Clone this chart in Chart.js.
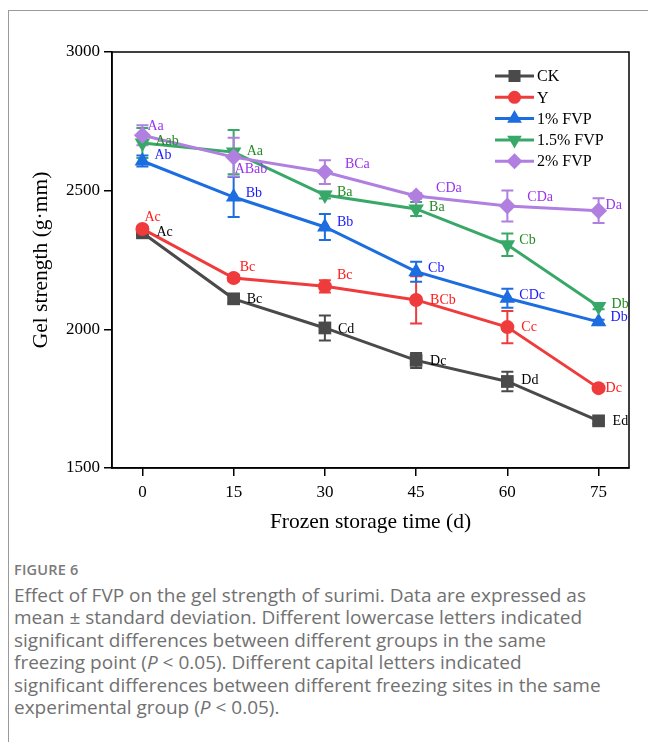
<!DOCTYPE html>
<html>
<head>
<meta charset="utf-8">
<script src="https://cdn.jsdelivr.net/npm/chart.js@4.4.1/dist/chart.umd.min.js"></script>
<style>
  body{margin:0;background:#fff;width:648px;height:742px;overflow:hidden;position:relative;font-family:"Open Sans",sans-serif}
  .frame{position:absolute;left:8px;top:10px;width:660px;height:760px;border-left:1px solid #9a9a9a;border-top:1px solid #9a9a9a}
  #chart{position:absolute;left:0;top:0}
  .caption{position:absolute;left:14px;top:560px;width:634px;color:#717171}
  .fig{font-size:14.5px;font-weight:600;line-height:19px;color:#7a7a7a;letter-spacing:.2px}
  .text{font-size:19px;line-height:22.4px;margin-top:5px;white-space:nowrap}
</style>
</head>
<body>
<div class="frame"></div>
<canvas id="chart" width="648" height="540"></canvas>
<div class="caption">
  <div class="fig">FIGURE 6</div>
  <div class="text">Effect of FVP on the gel strength of surimi. Data are expressed as<br>mean ± standard deviation. Different lowercase letters indicated<br>significant differences between different groups in the same<br>freezing point (<i>P</i> &lt; 0.05). Different capital letters indicated<br>significant differences between different freezing sites in the same<br>experimental group (<i>P</i> &lt; 0.05).</div>
</div>
<script>
// storage days and tick labels
const days = [0, 15, 30, 45, 60, 75];
const xTicks = ["0", "15", "30", "45", "60", "75"];
const yTicks = [1500, 2000, 2500, 3000];
const seriesNames = ["CK", "Y", "1% FVP", "1.5% FVP", "2% FVP"];

// gel strength (g·mm), mean and sd
const ck       = [2348, 2110, 2005, 1888, 1812, 1670];
const ckSd     = [8, 15, 45, 27, 35, 10];
const yGroup   = [2362, 2185, 2155, 2106, 2008, 1788];
const ySd      = [8, 12, 22, 85, 58, 8];
const fvp1     = [2607, 2477, 2369, 2208, 2112, 2027];
const fvp1Sd   = [20, 72, 47, 36, 34, 8];
const fvp15    = [2672, 2639, 2484, 2434, 2305, 2082];
const fvp15Sd  = [54, 80, 12, 25, 41, 10];
const fvp2     = [2700, 2621, 2567, 2481, 2445, 2428];
const fvp2Sd   = [36, 70, 43, 10, 56, 45];

// significance letters
const ckLetters    = ["Ac", "Bc", "Cd", "Dc", "Dd", "Ed"];
const yLetters     = ["Ac", "Bc", "Bc", "BCb", "Cc", "Dc"];
const fvp1Letters  = ["Ab", "Bb", "Bb", "Cb", "CDc", "Db"];
const fvp15Letters = ["Aab", "Aa", "Ba", "Ba", "Cb", "Db"];
const fvp2Letters  = ["Aa", "ABab", "BCa", "CDa", "CDa", "Da"];

// where each letter sits relative to its point (px)
const letterOffsets = [
  [[14,0],[13,1],[13,1],[14,1],[14,-1],[14,0]],
  [[2,-12],[6,-11],[12,-11],[14,0],[14,0],[7,0]],
  [[12,-6],[12,-4],[12,-5],[12,-3],[12,-3],[12,-5]],
  [[13,-2],[13,-1],[12,-3],[13,-2],[12,-4],[13,-2]],
  [[5,-9],[1,12],[20,-8],[20,-8],[20,-9],[7,-5]]
];

const lineColors   = ["#4a4a4a", "#ef3b3b", "#1c6ddf", "#38a868", "#b07fe0"];
const letterColors = ["#000000", "#ff1a1a", "#1a1aff", "#228b22", "#9933ee"];
const styles = [
  {pointStyle: "rect", radius: 9, rotation: 0},
  {pointStyle: "circle", radius: 7, rotation: 0},
  {pointStyle: "triangle", radius: 9, rotation: 0},
  {pointStyle: "triangle", radius: 9, rotation: 180},
  {pointStyle: "rectRot", radius: 8.5, rotation: 0}
];

const means = [ck, yGroup, fvp1, fvp15, fvp2];
const sds = [ckSd, ySd, fvp1Sd, fvp15Sd, fvp2Sd];
const letters = [ckLetters, yLetters, fvp1Letters, fvp15Letters, fvp2Letters];

const serif = "'Liberation Serif', 'Times New Roman', serif";
Chart.defaults.font.family = serif;
Chart.defaults.color = "#000";

const datasets = means.map((vals, i) => ({
  label: seriesNames[i],
  data: vals.map((v, j) => ({x: days[j], y: v})),
  borderColor: lineColors[i],
  backgroundColor: lineColors[i],
  borderWidth: 3,
  pointStyle: styles[i].pointStyle,
  pointRadius: styles[i].radius,
  pointRotation: styles[i].rotation,
  pointBorderWidth: 0,
  pointBackgroundColor: lineColors[i],
  order: 5 - i,
  tension: 0
}));

const errorBars = {
  id: "errorBars",
  beforeDatasetsDraw(chart){
    const ctx = chart.ctx;
    const ys = chart.scales.y;
    ctx.save();
    datasets.forEach((ds, i) => {
      const meta = chart.getDatasetMeta(i);
      ctx.strokeStyle = lineColors[i];
      ctx.lineWidth = 2;
      meta.data.forEach((pt, j) => {
        const top = ys.getPixelForValue(means[i][j] + sds[i][j]);
        const bot = ys.getPixelForValue(means[i][j] - sds[i][j]);
        ctx.beginPath();
        ctx.moveTo(pt.x, top); ctx.lineTo(pt.x, bot);
        ctx.moveTo(pt.x - 6, top); ctx.lineTo(pt.x + 6, top);
        ctx.moveTo(pt.x - 6, bot); ctx.lineTo(pt.x + 6, bot);
        ctx.stroke();
      });
    });
    ctx.restore();
  }
};

const letterLabels = {
  id: "letterLabels",
  afterDatasetsDraw(chart){
    const ctx = chart.ctx;
    ctx.save();
    ctx.font = "14px " + serif;
    ctx.textAlign = "left";
    ctx.textBaseline = "middle";
    datasets.forEach((ds, i) => {
      ctx.fillStyle = letterColors[i];
      chart.getDatasetMeta(i).data.forEach((pt, j) => {
        const off = letterOffsets[i][j];
        ctx.fillText(letters[i][j], pt.x + off[0], pt.y + off[1]);
      });
    });
    ctx.restore();
  }
};

const frameBox = {
  id: "frameBox",
  afterDraw(chart){
    const {ctx, chartArea: a} = chart;
    ctx.save();
    ctx.strokeStyle = "#000";
    ctx.lineWidth = 1.5;
    ctx.strokeRect(a.left, a.top, a.right - a.left, a.bottom - a.top);
    ctx.restore();
  }
};

const sideLegend = {
  id: "sideLegend",
  afterDraw(chart){
    const {ctx, chartArea: a} = chart;
    ctx.save();
    ctx.font = "16px " + serif;
    ctx.textBaseline = "middle";
    ctx.textAlign = "left";
    seriesNames.forEach((name, i) => {
      const y = a.top + 24 + i * 21.3;
      const x0 = a.right - 134, x1 = a.right - 95;
      ctx.strokeStyle = lineColors[i];
      ctx.fillStyle = lineColors[i];
      ctx.lineWidth = 3;
      ctx.beginPath(); ctx.moveTo(x0, y); ctx.lineTo(x1, y); ctx.stroke();
      Chart.helpers.drawPoint(ctx, {
        pointStyle: styles[i].pointStyle,
        radius: styles[i].radius - 0.5,
        rotation: styles[i].rotation,
        borderWidth: 0
      }, (x0 + x1) / 2, y);
      ctx.fillStyle = "#000";
      ctx.fillText(name, a.right - 92, y + 1);
    });
    ctx.restore();
  }
};

new Chart(document.getElementById("chart"), {
  type: "line",
  data: {datasets},
  options: {
    responsive: false,
    devicePixelRatio: 1,
    animation: false,
    layout: {padding: {left: 0, top: 52, right: 19, bottom: 0}},
    plugins: {legend: {display: false}, tooltip: {enabled: false}},
    scales: {
      x: {
        type: "linear",
        min: -5, max: 80,
        afterBuildTicks: s => { s.ticks = days.map(v => ({value: v})); },
        afterFit: s => { s.height = 72; },
        ticks: {
          font: {size: 17},
          color: "#000",
          padding: 6,
          maxRotation: 0,
          callback: (v) => xTicks[days.indexOf(v)]
        },
        grid: {drawOnChartArea: false, drawTicks: true, tickLength: 8, color: "#000", lineWidth: 1.5},
        border: {display: true, color: "#000", width: 1.5},
        title: {display: true, text: "Frozen storage time (d)", font: {size: 21.5}, color: "#000", padding: {top: 0, bottom: 5}}
      },
      y: {
        min: 1500, max: 3000,
        afterBuildTicks: s => { s.ticks = yTicks.map(v => ({value: v})); },
        afterFit: s => { s.width = 112; },
        ticks: {font: {size: 17}, color: "#000", padding: 4, callback: (v) => String(v)},
        grid: {drawOnChartArea: false, drawTicks: true, tickLength: 8, color: "#000", lineWidth: 1.5},
        border: {display: true, color: "#000", width: 1.5},
        title: {display: true, text: "Gel strength (g·mm)", font: {size: 21.5}, color: "#000", padding: {top: 28, bottom: 0}}
      }
    }
  },
  plugins: [errorBars, letterLabels, frameBox, sideLegend]
});
</script>
</body>
</html>
